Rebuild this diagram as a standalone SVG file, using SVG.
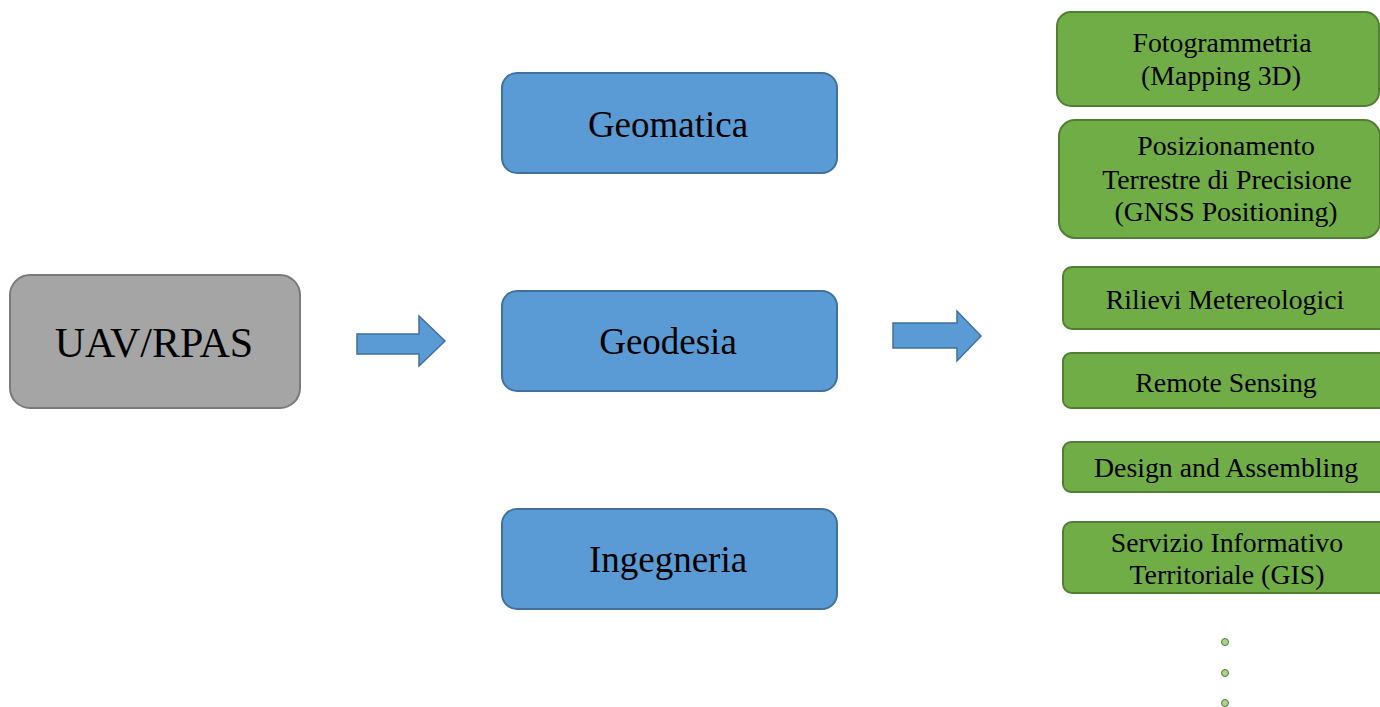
<svg xmlns="http://www.w3.org/2000/svg" width="1380" height="707" viewBox="0 0 1380 707">
  <style>
    text { font-family: "Liberation Serif", "Times New Roman", serif; fill: #000; text-anchor: middle; }
    .gray { fill: #a5a5a5; stroke: #7a7a7a; stroke-width: 2; }
    .blue { fill: #5b9bd5; stroke: #41719c; stroke-width: 2; }
    .green { fill: #70ad47; stroke: #507e32; stroke-width: 2; }
    .arrow { fill: #5b9bd5; stroke: #41719c; stroke-width: 1.5; stroke-linejoin: miter; }
    .dot { fill: #a9d18e; stroke: #507e32; stroke-width: 1; }
    .big { font-size: 42px; }
    .mid { font-size: 37px; }
    .small { font-size: 27.8px; }
  </style>
  <rect width="1380" height="707" fill="#ffffff"/>

  <!-- source node -->
  <g id="uav">
    <rect class="gray" x="10" y="275" width="290" height="133" rx="20"/>
    <text class="big" x="154" y="357">UAV/RPAS</text>
  </g>

  <!-- disciplines -->
  <g id="geomatica">
    <rect class="blue" x="502" y="73" width="335" height="100" rx="15"/>
    <text class="mid" x="668" y="137">Geomatica</text>
  </g>
  <g id="geodesia">
    <rect class="blue" x="502" y="291" width="335" height="100" rx="15"/>
    <text class="mid" x="668" y="354">Geodesia</text>
  </g>
  <g id="ingegneria">
    <rect class="blue" x="502" y="509" width="335" height="100" rx="15"/>
    <text class="mid" x="668" y="572">Ingegneria</text>
  </g>

  <!-- applications -->
  <g id="fotogrammetria">
    <rect class="green" x="1057" y="12" width="322" height="94" rx="14"/>
    <text class="small" x="1222" y="52">Fotogrammetria</text>
    <text class="small" x="1221" y="85">(Mapping 3D)</text>
  </g>
  <g id="posizionamento">
    <rect class="green" x="1059" y="120" width="321" height="118" rx="16"/>
    <text class="small" x="1226" y="155">Posizionamento</text>
    <text class="small" x="1227" y="189">Terrestre di Precisione</text>
    <text class="small" x="1226" y="221">(GNSS Positioning)</text>
  </g>
  <g id="rilievi">
    <rect class="green" x="1063" y="267" width="340" height="62" rx="9"/>
    <text class="small" x="1225" y="309">Rilievi Metereologici</text>
  </g>
  <g id="remote-sensing">
    <rect class="green" x="1063" y="353" width="340" height="55" rx="8"/>
    <text class="small" x="1226" y="392">Remote Sensing</text>
  </g>
  <g id="design">
    <rect class="green" x="1063" y="442" width="340" height="50" rx="8"/>
    <text class="small" x="1226" y="477">Design and Assembling</text>
  </g>
  <g id="gis">
    <rect class="green" x="1063" y="522" width="340" height="71" rx="9"/>
    <text class="small" x="1227" y="552">Servizio Informativo</text>
    <text class="small" x="1227" y="584">Territoriale (GIS)</text>
  </g>
  <g id="more">
    <circle class="dot" cx="1225" cy="642" r="3.5"/>
    <circle class="dot" cx="1225" cy="673" r="3.5"/>
    <circle class="dot" cx="1225" cy="703" r="3.5"/>
  </g>

  <!-- block arrows -->
  <g id="connectors">
    <polygon class="arrow" points="357,334 419,334 419,316 445,341 419,366 419,354 357,354"/>
    <polygon class="arrow" points="893,323 957,323 957,311 981,336 957,361 957,348 893,348"/>
  </g>
</svg>
